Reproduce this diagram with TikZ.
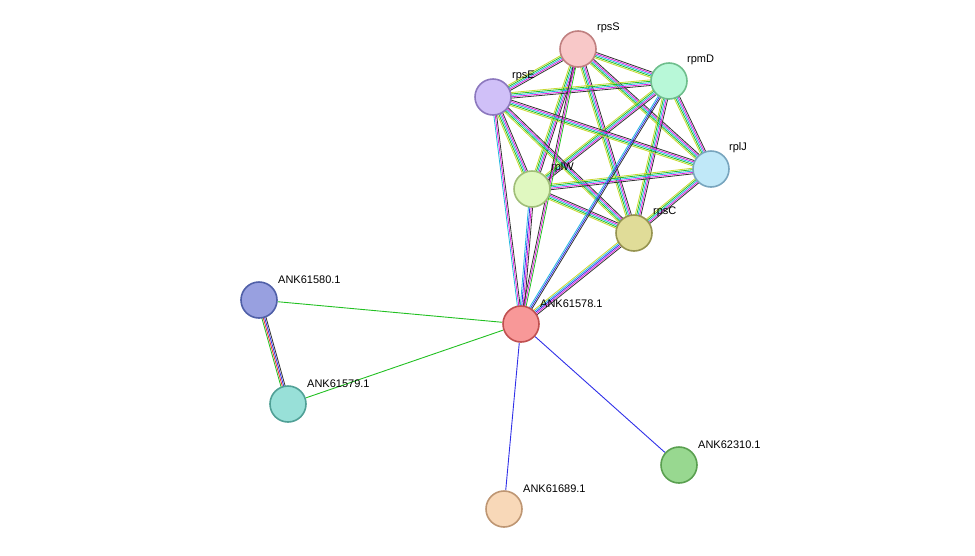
\documentclass[tikz,border=0pt]{standalone}
\usepackage{fontspec}
\setmainfont{Liberation Sans}
\usetikzlibrary{calc,backgrounds}
\definecolor{eg}{HTML}{22C022}
\definecolor{ecy}{HTML}{22B8E0}
\definecolor{emg}{HTML}{E020E0}
\definecolor{ebk}{HTML}{333333}
\definecolor{eyl}{HTML}{C8D830}
\definecolor{ebl}{HTML}{3030E8}
\definecolor{erd}{HTML}{E83030}
\newcommand\medge[4]{%
  \foreach \c [count=\i] in {#4} {%
    \pgfmathsetmacro\o{(\i-(#3+1)/2)*1.4}%
    \draw[\c, line width=0.8pt] ($(#1)!\o pt!90:(#2)$) -- ($(#2)!\o pt!-90:(#1)$);
  }}
\begin{document}
\begin{tikzpicture}[x=1pt,y=-1pt,
  prot/.style={circle, minimum size=36pt, inner sep=0pt, line width=1.6pt},
  lbl/.style={font=\fontsize{11}{12}\selectfont, anchor=south west, inner sep=1pt}]
\useasboundingbox (0,0) rectangle (975,555);
\node[prot, fill={rgb,255:red,248;green,200;blue,200}, draw={rgb,255:red,192;green,128;blue,128}] (rpsS) at (578,49) {};
\node[prot, fill={rgb,255:red,184;green,248;blue,216}, draw={rgb,255:red,110;green,190;blue,140}] (rpmD) at (669,81) {};
\node[prot, fill={rgb,255:red,208;green,192;blue,248}, draw={rgb,255:red,140;green,120;blue,190}] (rpsE) at (493,97) {};
\node[prot, fill={rgb,255:red,192;green,232;blue,248}, draw={rgb,255:red,120;green,165;blue,190}] (rplJ) at (711,169) {};
\node[prot, fill={rgb,255:red,224;green,248;blue,192}, draw={rgb,255:red,160;green,190;blue,120}] (rplW) at (532,189) {};
\node[prot, fill={rgb,255:red,224;green,220;blue,152}, draw={rgb,255:red,150;green,148;blue,80}] (rpsC) at (634,233) {};
\node[prot, fill={rgb,255:red,248;green,152;blue,152}, draw={rgb,255:red,192;green,80;blue,80}] (a78) at (521,324) {};
\node[prot, fill={rgb,255:red,152;green,160;blue,224}, draw={rgb,255:red,80;green,96;blue,168}] (a80) at (259,300) {};
\node[prot, fill={rgb,255:red,152;green,224;blue,216}, draw={rgb,255:red,80;green,160;blue,150}] (a79) at (288,404) {};
\node[prot, fill={rgb,255:red,152;green,216;blue,144}, draw={rgb,255:red,90;green,160;blue,80}] (a10) at (679,465) {};
\node[prot, fill={rgb,255:red,248;green,216;blue,184}, draw={rgb,255:red,190;green,150;blue,115}] (a89) at (504,509) {};
\node[lbl] (lS) at (596,34) {rpsS};
\node[lbl] (lD) at (686,66) {rpmD};
\node[lbl] (lE) at (511,82) {rpsE};
\node[lbl] (lJ) at (728,154) {rplJ};
\node[lbl] (lW) at (550,174) {rplW};
\node[lbl] (lC) at (652,218) {rpsC};
\node[lbl] (l78) at (539,309) {ANK61578.1};
\node[lbl] (l80) at (277,285) {ANK61580.1};
\node[lbl] (l79) at (306,389) {ANK61579.1};
\node[lbl] (l10) at (697,450) {ANK62310.1};
\node[lbl] (l89) at (522,494) {ANK61689.1};
\begin{pgfonlayer}{background}
\foreach \a/\b in {rpsS/rpmD,rpsS/rpsE,rpsS/rplJ,rpsS/rplW,rpsS/rpsC,rpmD/rpsE,rpmD/rplJ,rpmD/rplW,rpmD/rpsC,rpsE/rplJ,rpsE/rplW,rpsE/rpsC,rplJ/rplW,rplJ/rpsC,rplW/rpsC}
  {\medge{\a}{\b}{5}{eyl,eg,ecy,emg,ebk}}
\medge{a78}{rpsE}{3}{ebk,emg,ecy}
\medge{a78}{rplW}{4}{ebk,emg,ebl,ecy}
\medge{a78}{rpsS}{3}{eg,emg,ebk}
\medge{a78}{rpmD}{3}{ebk,ebl,ecy}
\medge{a78}{rpsC}{5}{ebk,emg,ebl,ecy,eyl}
\medge{a80}{a79}{4}{eg,erd,ebl,ebk}
\draw[eg, line width=0.9pt] (a78) -- (a80);
\draw[eg, line width=0.9pt] (a78) -- (a79);
\draw[ebl, line width=0.9pt] (a78) -- (a10);
\draw[ebl, line width=0.9pt] (a78) -- (a89);
\end{pgfonlayer}
\end{tikzpicture}
\end{document}
